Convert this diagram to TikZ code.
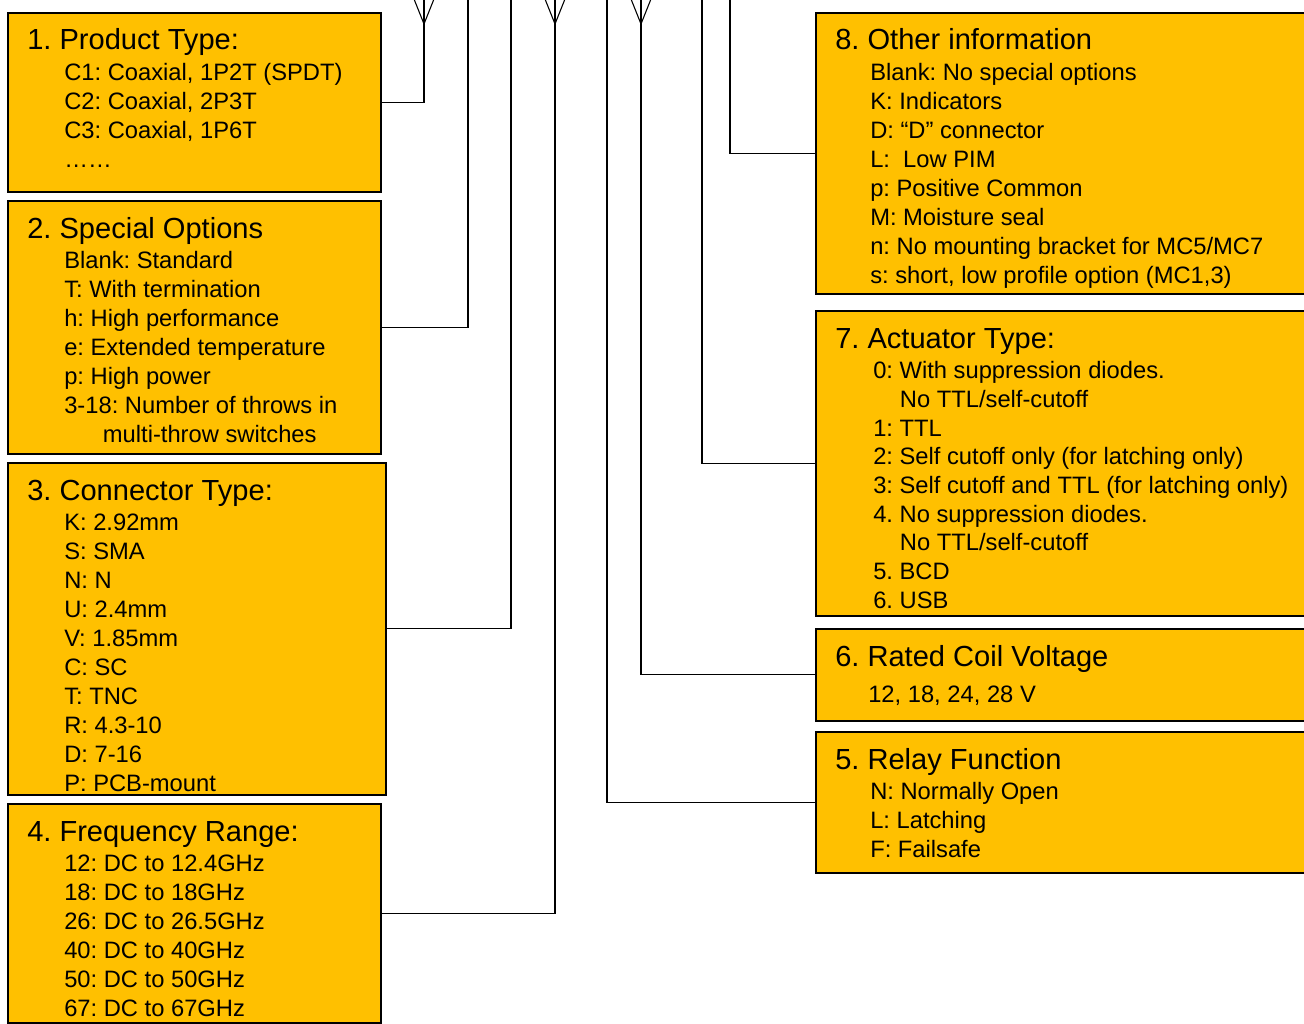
\documentclass[tikz,border=0pt]{standalone}
\usepackage{fontspec}
\setmainfont{Liberation Sans}
\usepackage{xcolor}
\definecolor{optgold}{RGB}{255,192,0}
\frenchspacing

\begin{document}
\begin{tikzpicture}[x=0.75pt,y=-0.75pt,
  optbox/.style={draw=black,line width=1.2pt,fill=optgold,anchor=north west,inner sep=0pt},
  head/.style={anchor=base west,inner sep=0pt,font=\fontsize{21.8}{26}\selectfont},
  item/.style={anchor=base west,inner sep=0pt,align=left,font=\fontsize{17.8}{21.75}\selectfont},
  wire/.style={line width=0.8pt}]
  \def\px{0.75pt}
  % page size (right boxes run off the edge)
  \clip (0,0) rectangle (1304,1024);
  \fill[white] (0,0) rectangle (1304,1024);
  % left column (item nodes sit on the baseline of their last line)
  \node[optbox,minimum width=373*\px,minimum height=179*\px] (b1) at (7,12) {};
  \node[head] (t1) at (27,50) {1. Product Type:};
  \node[item] (l1) at (64,167) {C1: Coaxial, 1P2T (SPDT)\\C2: Coaxial, 2P3T\\C3: Coaxial, 1P6T\\……};
  \node[optbox,minimum width=373*\px,minimum height=253*\px] (b2) at (7,200) {};
  \node[head] (t2) at (27,238) {2. Special Options};
  \node[item] (l2) at (64,442) {Blank: Standard\\T: With termination\\h: High performance\\e: Extended temperature\\p: High power\\3-18: Number of throws in\\\hspace*{29pt}multi-throw switches};
  \node[optbox,minimum width=378*\px,minimum height=332*\px] (b3) at (7,462) {};
  \node[head] (t3) at (27,500) {3. Connector Type:};
  \node[item] (l3) at (64,791) {K: 2.92mm\\S: SMA\\N: N\\U: 2.4mm\\V: 1.85mm\\C: SC\\T: TNC\\R: 4.3-10\\D: 7-16\\P: PCB-mount};
  \node[optbox,minimum width=373*\px,minimum height=219*\px] (b4) at (7,803) {};
  \node[head] (t4) at (27,841) {4. Frequency Range:};
  \node[item] (l4) at (64,1016) {12: DC to 12.4GHz\\18: DC to 18GHz\\26: DC to 26.5GHz\\40: DC to 40GHz\\50: DC to 50GHz\\67: DC to 67GHz};
  % right column
  \node[optbox,minimum width=520*\px,minimum height=281*\px] (b8) at (815,12) {};
  \node[head] (t8) at (835,50) {8. Other information};
  \node[item] (l8) at (870,283) {Blank: No special options\\K: Indicators\\D: “D” connector\\L:\ \ Low PIM\\p: Positive Common\\M: Moisture seal\\n: No mounting bracket for MC5/MC7\\s: short, low profile option (MC1,3)};
  \node[optbox,minimum width=520*\px,minimum height=305*\px] (b7) at (815,310) {};
  \node[head] (t7) at (835,348) {7. Actuator Type:};
  \node[item,font=\fontsize{17.8}{21.5}\selectfont] (l7) at (873,608) {0: With suppression diodes.\\\hspace*{20pt}No TTL/self-cutoff\\1: TTL\\2: Self cutoff only (for latching only)\\3: Self cutoff and TTL (for latching only)\\4. No suppression diodes.\\\hspace*{20pt}No TTL/self-cutoff\\5. BCD\\6. USB};
  \node[optbox,minimum width=520*\px,minimum height=92*\px] (b6) at (815,628) {};
  \node[head] (t6) at (835,666) {6. Rated Coil Voltage};
  \node[item] (l6) at (868,702) {12, 18, 24, 28 V};
  \node[optbox,minimum width=520*\px,minimum height=141*\px] (b5) at (815,731) {};
  \node[head] (t5) at (835,769) {5. Relay Function};
  \node[item] (l5) at (870,857) {N: Normally Open\\L: Latching\\F: Failsafe};
  % free ends at the top edge
  \coordinate (c1) at (424,0);
  \coordinate (c2) at (468,0);
  \coordinate (c3) at (511,0);
  \coordinate (c4) at (555,0);
  \coordinate (c5) at (607,0);
  \coordinate (c6) at (641,0);
  \coordinate (c7) at (702,0);
  \coordinate (c8) at (730,0);
  % connectors
  \draw[wire] (b1.east) -| (c1);
  \draw[wire] (b2.east) -| (c2);
  \draw[wire] (b3.east) -| (c3);
  \draw[wire] (b4.east) -| (c4);
  \draw[wire] (b5.west) -| (c5);
  \draw[wire] (b6.west) -| (c6);
  \draw[wire] (b7.west) -| (c7);
  \draw[wire] (b8.west) -| (c8);
  % open marks on the cut ends
  \foreach \c in {c1,c4,c6}
    \draw[wire] (\c) ++(-10,-1) -- ++(10,25) -- ++(10,-25);
\end{tikzpicture}
\end{document}
